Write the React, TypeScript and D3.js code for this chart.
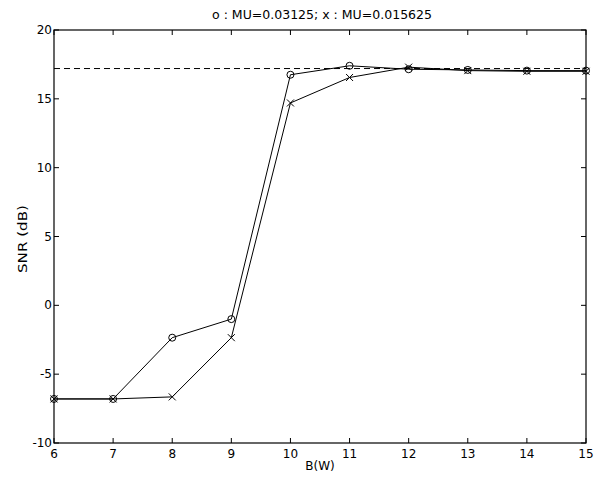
import React from "react";
import * as d3 from "d3";

const bits = [6, 7, 8, 9, 10, 11, 12, 13, 14, 15];
const snrMuLarge = [-6.8, -6.8, -2.35, -1.0, 16.75, 17.4, 17.15, 17.1, 17.05, 17.05];
const snrMuSmall = [-6.8, -6.8, -6.65, -2.35, 14.7, 16.55, 17.3, 17.05, 17.0, 17.0];
const referenceLevel = 17.2;
const xTicks = [6, 7, 8, 9, 10, 11, 12, 13, 14, 15];
const yTicks = [-10, -5, 0, 5, 10, 15, 20];
const titleText = "o : MU=0.03125; x : MU=0.015625";

const W = 595, H = 479;
const L = 54, R = 586, T = 30, B = 443;
const FONT = "DejaVu Sans, Verdana, sans-serif";

export default function App() {
  const x = d3.scaleLinear().domain([6, 15]).range([L, R]);
  const y = d3.scaleLinear().domain([-10, 20]).range([B, T]);
  const line = d3.line<number>().x((_, i) => x(bits[i])).y((d) => y(d));
  const tl = 5;
  return (
    <svg width={W} height={H} style={{ position: "absolute", left: 0, top: 0, background: "#fff" }}>
      <rect x={0} y={0} width={W} height={H} fill="#fff" />
      <rect x={L} y={T} width={R - L} height={B - T} fill="none" stroke="#000" strokeWidth={1.2} />
      {xTicks.map((t) => (
        <g key={"x" + t}>
          <line x1={x(t)} x2={x(t)} y1={B} y2={B - tl} stroke="#000" />
          <line x1={x(t)} x2={x(t)} y1={T} y2={T + tl} stroke="#000" />
          <text x={x(t)} y={B + 15} textAnchor="middle" fontSize={12} fontFamily={FONT}>{t}</text>
        </g>
      ))}
      {yTicks.map((t) => (
        <g key={"y" + t}>
          <line x1={L} x2={L + tl} y1={y(t)} y2={y(t)} stroke="#000" />
          <line x1={R} x2={R - tl} y1={y(t)} y2={y(t)} stroke="#000" />
          <text x={L - 2} y={y(t) + 4} textAnchor="end" fontSize={12} fontFamily={FONT}>{t}</text>
        </g>
      ))}
      <line x1={L} x2={R} y1={y(referenceLevel)} y2={y(referenceLevel)} stroke="#000" strokeDasharray="6,4" strokeWidth={1} />
      <path d={line(snrMuLarge) || ""} fill="none" stroke="#000" strokeWidth={1} />
      <path d={line(snrMuSmall) || ""} fill="none" stroke="#000" strokeWidth={1} />
      {snrMuLarge.map((v, i) => (
        <circle key={"o" + i} cx={x(bits[i])} cy={y(v)} r={3.5} fill="none" stroke="#000" strokeWidth={1} />
      ))}
      {snrMuSmall.map((v, i) => {
        const cx = x(bits[i]), cy = y(v), s = 3.5;
        return (
          <g key={"x" + i}>
            <line x1={cx - s} x2={cx + s} y1={cy - s} y2={cy + s} stroke="#000" />
            <line x1={cx - s} x2={cx + s} y1={cy + s} y2={cy - s} stroke="#000" />
          </g>
        );
      })}
      <text x={322} y={19} textAnchor="middle" fontSize={12} fontFamily={FONT} textLength={220} lengthAdjust="spacingAndGlyphs">{titleText}</text>
      <text x={320} y={470} textAnchor="middle" fontSize={12} fontFamily={FONT}>B(W)</text>
      <text transform={`translate(27,239) rotate(-90)`} textAnchor="middle" fontSize={12} fontFamily={FONT} textLength={68} lengthAdjust="spacingAndGlyphs">SNR (dB)</text>
    </svg>
  );
}
